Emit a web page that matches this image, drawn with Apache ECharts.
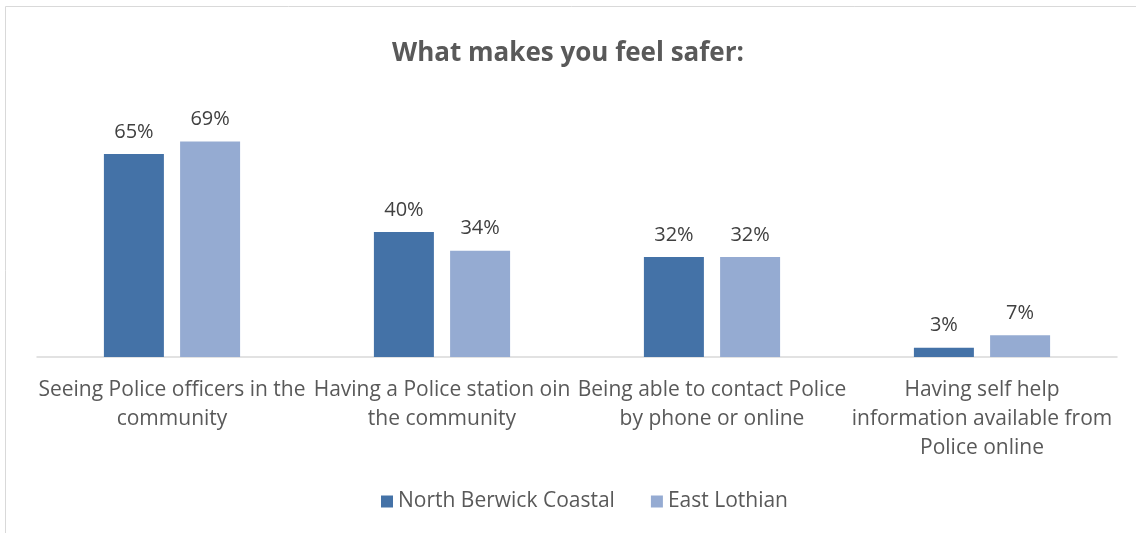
<!DOCTYPE html>
<html>
<head>
<meta charset="utf-8">
<script src="https://cdn.jsdelivr.net/npm/echarts@6/dist/echarts.min.js"></script>
<style>
  html, body { margin: 0; padding: 0; background: #fff; }
  #main { width: 1136px; height: 533px; }
</style>
</head>
<body>
<div id="main"></div>
<script>
var categories = [
    'Seeing Police officers in the\ncommunity',
    'Having a Police station oin\nthe community',
    'Being able to contact Police\nby phone or online',
    'Having self help\ninformation available from\nPolice online'
];
var northBerwick = [65, 40, 32, 3];
var eastLothian = [69, 34, 32, 7];

var font = 'Open Sans, sans-serif';
var myChart = echarts.init(document.getElementById('main'));
option = {
    animation: false,
    title: {
        text: 'What makes you feel safer:',
        left: 'center',
        top: 36,
        textStyle: { color: '#595959', fontSize: 26, fontWeight: 'bold', fontFamily: font }
    },
    graphic: [{
        type: 'rect',
        shape: { x: 5.5, y: 6.5, width: 1140, height: 540 },
        style: { fill: 'none', stroke: '#d9d9d9', lineWidth: 1 }
    }],
    legend: {
        bottom: 16,
        left: 376,
        itemWidth: 12,
        itemHeight: 12,
        itemGap: 36,
        icon: 'rect',
        textStyle: { color: '#595959', fontSize: 21, fontFamily: font }
    },
    grid: { left: 37, right: 19, top: 107, bottom: 176, containLabel: false },
    xAxis: {
        type: 'category',
        data: categories,
        axisLine: { lineStyle: { color: '#d9d9d9', width: 1.5 } },
        axisTick: { show: false },
        axisLabel: {
            color: '#595959', fontSize: 21, fontFamily: font,
            lineHeight: 29, margin: 19, interval: 0
        }
    },
    yAxis: {
        type: 'value',
        min: 0,
        max: 80,
        show: false,
        splitLine: { show: false }
    },
    series: [
        {
            name: 'North Berwick Coastal',
            type: 'bar',
            data: northBerwick,
            barWidth: 60,
            barGap: '27%',
            itemStyle: { color: '#4472a7' },
            label: { show: true, position: 'top', distance: 12, formatter: '{c}%', color: '#404040', fontSize: 20, fontFamily: font }
        },
        {
            name: 'East Lothian',
            type: 'bar',
            data: eastLothian,
            barWidth: 60,
            itemStyle: { color: '#95abd2' },
            label: { show: true, position: 'top', distance: 12, formatter: '{c}%', color: '#404040', fontSize: 20, fontFamily: font }
        }
    ]
};
myChart.setOption(option);
</script>
</body>
</html>
